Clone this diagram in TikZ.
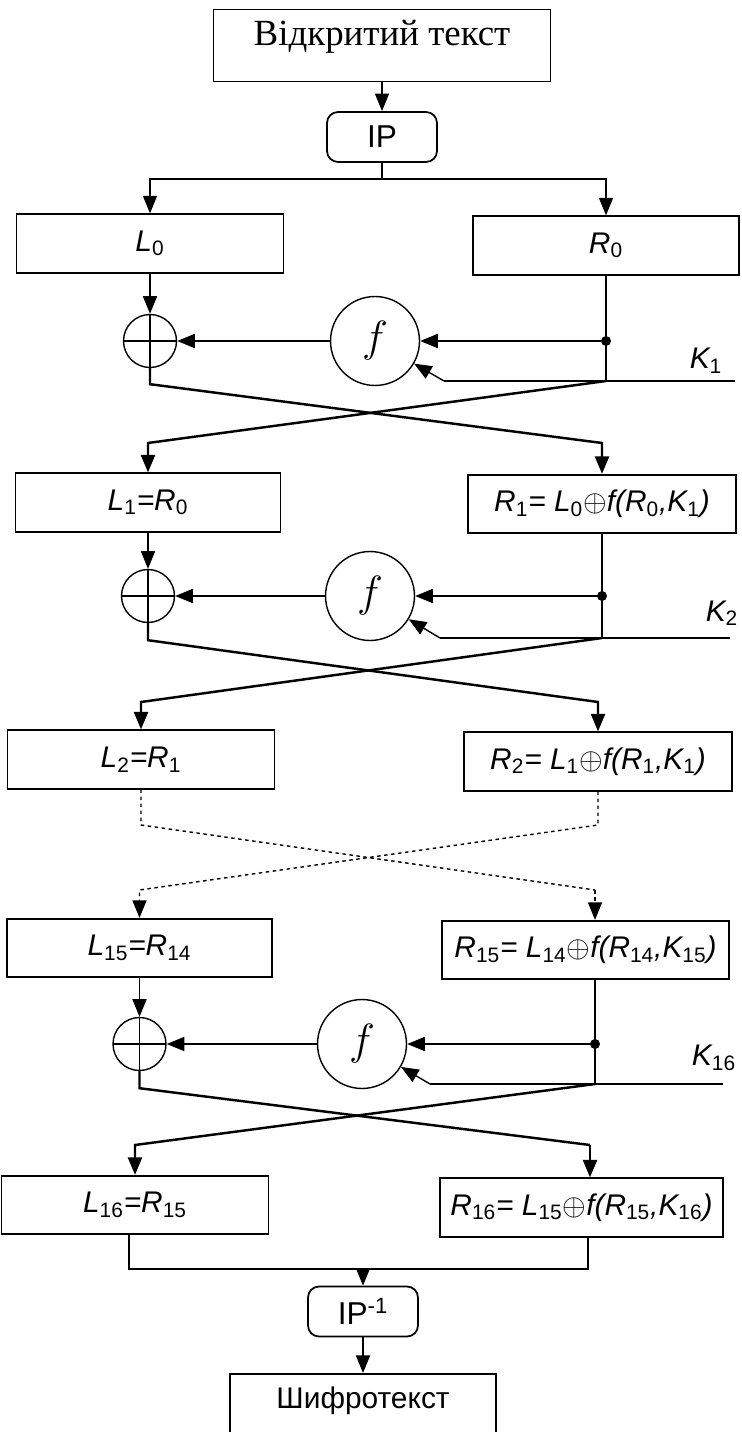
\documentclass[tikz,border=0pt]{standalone}
\usepackage{fontspec}
\setmainfont{Liberation Sans}
\newfontfamily\tmsfont{Liberation Serif}
\usepackage{tikz}
\usetikzlibrary{arrows.meta, calc}

\newcommand\ix[1]{\textsubscript{\upshape #1}}

\begin{document}
\begin{tikzpicture}[x=0.02cm, y=-0.02cm,
  >={Triangle[length=10pt,width=8pt]},
  wire/.style={thick},
  xline/.style={line width=1.4pt},
  dotline/.style={thick, dash pattern=on 2pt off 2pt},
  reg/.style={draw, line width=1pt, minimum height=1.17cm, inner sep=1pt,
    font=\fontsize{17}{20}\selectfont\itshape},
  perm/.style={draw, line width=1pt, rounded corners=0.22cm, minimum width=2.2cm,
    minimum height=1cm, font=\fontsize{18}{21}\selectfont},
  fnode/.style={circle, draw, thick, minimum size=1.78cm, inner sep=0,
    font=\fontsize{29}{30}\selectfont},
  xorc/.style={circle, draw, thick, minimum size=1.06cm, inner sep=0,
    path picture={\draw[thick] (path picture bounding box.north) -- (path picture bounding box.south)
      (path picture bounding box.west) -- (path picture bounding box.east);}},
  jdot/.style={circle, fill, inner sep=0, minimum size=0.2cm},
  klab/.style={font=\fontsize{17}{20}\selectfont\itshape}]

\useasboundingbox (0,0) rectangle (741,1432);
\clip (0,0) rectangle (741,1432);

% input, IP
\node[draw, line width=1pt, minimum width=6.74cm, minimum height=1.44cm, text height=15pt,
  text depth=15pt, font=\tmsfont\fontsize{21}{24}\selectfont] (pt) at (382,45.5) {Відкритий текст};
\node[perm] (ip) at (382,137) {IP};
\coordinate (split) at (382,179);

\node[reg, minimum width=5.34cm] (L0) at (150,243.5) {L\ix{0}};
\node[reg, minimum width=5.32cm] (R0) at (606,245.5) {R\ix{0}};

\draw[wire, ->] (pt) -- (ip);
\draw[wire] (ip) -- (split);
\draw[wire, ->] (split) -| (L0);
\draw[wire, ->] (split) -| (R0);

% round 1
\node[xorc] (x1) at (150,341) {};
\node[fnode] (f1) at (375,341) {$f$};
\node[jdot] (d1) at (606,341) {};
\coordinate (k1j) at (606,381);
\coordinate (k1s) at (444,381);
\coordinate (k1e) at (735,381);
\node[klab] (k1) at (706,361) {K\ix{1}};

\node[reg, minimum width=5.3cm] (L1) at (148,502.5) {L\ix{1}=R\ix{0}};
\node[reg, minimum width=5.36cm] (R1) at (602,504) {R\ix{1}= L\ix{0}$\oplus$f(R\ix{0},K\ix{1})};

\draw[wire, ->] (L0) -- (x1);
\draw[wire] (R0) -- (k1j);
\draw[wire, ->] (d1) -- (f1);
\draw[wire, ->] (f1) -- (x1);
\draw[xline] (k1s) -- (k1e);
\draw[wire, ->] (k1s) -- (f1);
\draw[xline, ->] (x1.south) -- ++(0,16) -- (602,443) -- (R1);
\draw[xline, ->] (k1j) -- (148,443) -- (L1);

% round 2
\node[xorc] (x2) at (148,596) {};
\node[fnode] (f2) at (370,596) {$f$};
\node[jdot] (d2) at (602,596) {};
\coordinate (k2j) at (602,638);
\coordinate (k2s) at (440,638);
\coordinate (k2e) at (730,638);
\node[klab] (k2) at (722,613) {K\ix{2}};

\node[reg, minimum width=5.34cm] (L2) at (141,759.5) {L\ix{2}=R\ix{1}};
\node[reg, minimum width=5.36cm] (R2) at (598,761.5) {R\ix{2}= L\ix{1}$\oplus$f(R\ix{1},K\ix{1})};

\draw[wire, ->] (L1) -- (x2);
\draw[wire] (R1) -- (k2j);
\draw[wire, ->] (d2) -- (f2);
\draw[wire, ->] (f2) -- (x2);
\draw[xline] (k2s) -- (k2e);
\draw[wire, ->] (k2s) -- (f2);
\draw[xline, ->] (x2.south) -- ++(0,17) -- (598,702) -- (R2);
\draw[xline, ->] (k2j) -- (141,702) -- (L2);

% rounds 3..15 skipped
\node[reg, minimum width=5.3cm] (L15) at (139.5,948) {L\ix{15}=R\ix{14}};
\node[reg, minimum width=5.74cm] (R15) at (585.5,950) {R\ix{15}= L\ix{14}$\oplus$f(R\ix{14},K\ix{15})};
\coordinate (c15r) at (595,890);

\draw[dotline] (L2) -- (141,825) -- (c15r);
\draw[dotline, ->] (c15r) -- (c15r |- R15.north);
\draw[dotline, ->] (R2) -- (598,825) -- (139.5,890) -- (L15);

% round 16
\node[xorc] (x3) at (139.5,1044) {};
\node[fnode] (f3) at (362,1044) {$f$};
\node[jdot] (d3) at (595,1044) {};
\coordinate (k3j) at (595,1084);
\coordinate (k3s) at (430,1084);
\coordinate (k3e) at (723,1084);
\node[klab] (k16) at (714,1058) {K\ix{16}};

\node[reg, minimum width=5.34cm] (L16) at (135,1205) {L\ix{16}=R\ix{15}};
\node[reg, minimum width=5.66cm] (R16) at (581.5,1207.5) {R\ix{16}= L\ix{15}$\oplus$f(R\ix{15},K\ix{16})};
\coordinate (c16r) at (590,1145);

\draw[wire, ->] (L15) -- (x3);
\draw[wire] (d3 |- R15.south) -- (k3j);
\draw[wire, ->] (d3) -- (f3);
\draw[wire, ->] (f3) -- (x3);
\draw[xline] (k3s) -- (k3e);
\draw[wire, ->] (k3s) -- (f3);
\draw[xline] (x3.south) -- ++(0,17) -- (c16r);
\draw[xline, ->] (c16r) -- (c16r |- R16.north);
\draw[xline, ->] (k3j) -- (135,1145) -- (L16);

% output
\coordinate (m1) at (129,1269);
\coordinate (m2) at (588,1269);
\coordinate (mm) at (363,1269);
\node[perm] (ipinv) at (363,1311.5) {IP\textsuperscript{-1}};
\node[draw, line width=1pt, anchor=north, minimum width=5.32cm, minimum height=1.6cm,
  text height=13pt, text depth=19pt, font=\fontsize{17}{20}\selectfont] (ct) at (363,1373) {Шифротекст};

\draw[wire] (m1 |- L16.south) -- (m1) -- (m2) -- (m2 |- R16.south);
\draw[wire, ->] (mm) -- (ipinv);
\draw[wire, ->] (ipinv) -- (ct);
\end{tikzpicture}
\end{document}
